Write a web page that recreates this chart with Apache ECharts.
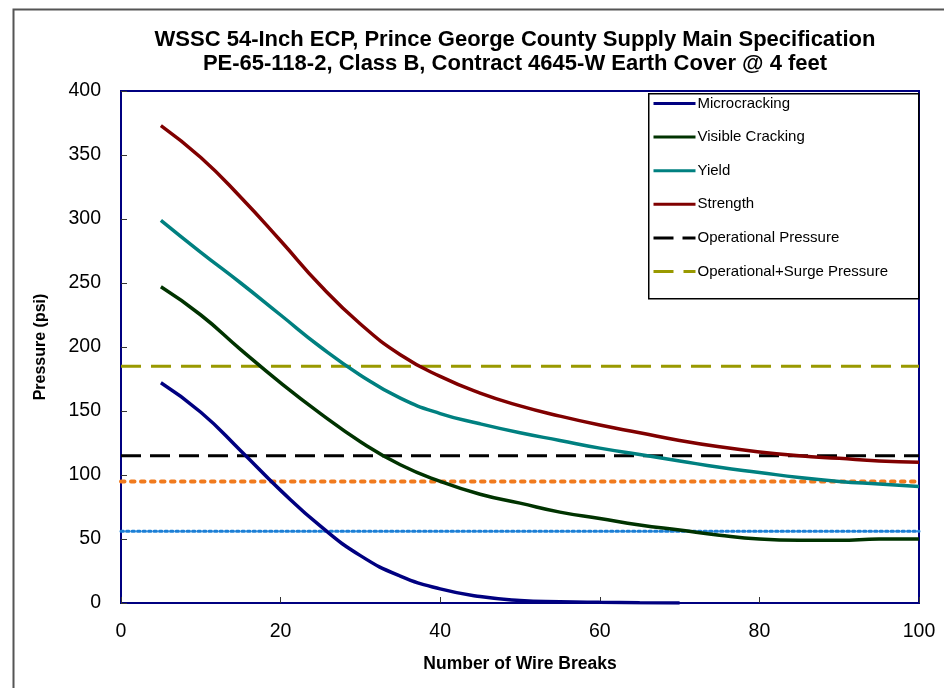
<!DOCTYPE html>
<html>
<head>
<meta charset="utf-8">
<script src="https://cdn.jsdelivr.net/npm/echarts@6/dist/echarts.min.js"></script>
<style>html,body{margin:0;padding:0;background:#fff}#c{width:944px;height:688px}</style>
</head>
<body>
<div id="c"></div>
<script>
var wireBreaks = [5, 10, 15, 20, 25, 30, 35, 40, 45, 50, 55, 60, 65, 70, 75, 80, 85, 90, 95, 100];
var microcracking = [172, 149, 119, 88, 60, 37, 21, 11, 5, 2, 1, 0.5, 0.2, 0];
var visibleCracking = [247, 225, 198, 172, 148, 126, 108, 95, 85, 78, 71, 66, 61, 57, 53, 50, 49, 49, 50, 50];
var yieldP = [299, 274, 250, 225, 200, 178, 160, 148, 140, 133, 127, 121, 116, 111, 106, 102, 98, 95, 93, 91];
var strength = [373, 348, 317, 283, 248, 218, 194, 177, 164, 154, 146, 139, 133, 127, 122, 118, 115, 113, 111, 110];
var lineX = [0, 100];
var operational = 115;
var operationalSurge = 185;
var orangeRef = 95;
var blueRef = 56;
var xTicks = [0, 20, 40, 60, 80, 100];
var yTicks = [0, 50, 100, 150, 200, 250, 300, 350, 400];

function pairs(xs, ys) { return ys.map(function (v, i) { return [xs[i], v]; }); }
function flat(v) { return lineX.map(function (x) { return [x, v]; }); }

var FONT = 'Liberation Sans, Arial, sans-serif';
var chart = echarts.init(document.getElementById('c'), null, {renderer: 'canvas'});
chart.setOption({
  backgroundColor: '#fff',
  animation: false,
  title: {
    text: 'WSSC 54-Inch ECP, Prince George County Supply Main Specification\nPE-65-118-2, Class B, Contract 4645-W Earth Cover @ 4 feet',
    left: 510, top: 23, textAlign: 'center',
    textStyle: {fontFamily: FONT, fontSize: 22, fontWeight: 'bold', color: '#000', lineHeight: 24}
  },
  graphic: [{
    type: 'rect', left: 11, top: 7, z: 0, silent: true,
    shape: {width: 960, height: 700},
    style: {fill: 'none', stroke: '#555', lineWidth: 2}
  }, {
    type: 'rect', left: 648, top: 93, z: 9, silent: true,
    shape: {width: 270, height: 205},
    style: {fill: '#fff', stroke: '#000', lineWidth: 1.5}
  }],
  grid: {left: 121, right: 25, top: 91, bottom: 85, show: true, borderColor: '#000080', borderWidth: 2, backgroundColor: 'transparent'},
  legend: {
    orient: 'vertical', left: 650, top: 95, z: 10,
    itemWidth: 42, itemHeight: 16, itemGap: 18.6, padding: [1, 4, 4, 2],
    itemStyle: {opacity: 0},
    lineStyle: {width: 3},
    textStyle: {fontFamily: FONT, fontSize: 15, color: '#000', padding: [0, 0, 0, -3]},
    data: ['Microcracking', 'Visible Cracking', 'Yield', 'Strength', 'Operational Pressure', 'Operational+Surge Pressure']
  },
  xAxis: {
    type: 'value', min: 0, max: 100, interval: 20,
    name: 'Number of Wire Breaks', nameLocation: 'middle', nameGap: 52,
    nameTextStyle: {fontFamily: FONT, fontSize: 17.5, fontWeight: 'bold', color: '#000'},
    axisLine: {onZero: false, lineStyle: {color: '#000080', width: 2}},
    axisTick: {inside: true, length: 6, lineStyle: {color: '#333'}},
    splitLine: {show: false},
    axisLabel: {fontFamily: FONT, fontSize: 19.5, color: '#000', margin: 19,
      formatter: function (v) { return xTicks.indexOf(v) >= 0 ? String(v) : ''; }}
  },
  yAxis: {
    type: 'value', min: 0, max: 400, interval: 50,
    name: 'Pressure (psi)', nameLocation: 'middle', nameGap: 72, nameRotate: 90,
    nameTextStyle: {fontFamily: FONT, fontSize: 16, fontWeight: 'bold', color: '#000'},
    axisLine: {show: true, lineStyle: {color: '#000080', width: 2}},
    axisTick: {show: true, inside: true, length: 6, lineStyle: {color: '#333'}},
    splitLine: {show: false},
    axisLabel: {fontFamily: FONT, fontSize: 19.5, color: '#000', margin: 20,
      formatter: function (v) { return yTicks.indexOf(v) >= 0 ? String(v) : ''; }}
  },
  series: [
    {name: 'Operational+Surge Pressure', type: 'line', symbol: 'none', data: flat(operationalSurge), color: '#999900',
      lineStyle: {color: '#999900', width: 3, type: [20, 10]}, z: 2},
    {name: 'Operational Pressure', type: 'line', symbol: 'none', data: flat(operational), color: '#000',
      lineStyle: {color: '#000', width: 3, type: [20, 9]}, z: 2},
    {name: 'Orange', type: 'line', symbol: 'none', data: flat(orangeRef), color: '#F07A1E',
      lineStyle: {color: '#F07A1E', width: 4, type: [3.5, 6.5], cap: 'round'}, z: 2},
    {name: 'Blue', type: 'line', symbol: 'none', data: flat(blueRef), color: '#1B7FD6',
      lineStyle: {color: '#1B7FD6', width: 3, type: [2.5, 3], cap: 'round'}, z: 2},
    {name: 'Microcracking', type: 'line', symbol: 'none', smooth: 0.5, data: pairs(wireBreaks, microcracking), color: '#000080',
      lineStyle: {color: '#000080', width: 3.5}, z: 3},
    {name: 'Visible Cracking', type: 'line', symbol: 'none', smooth: 0.5, data: pairs(wireBreaks, visibleCracking), color: '#003300',
      lineStyle: {color: '#003300', width: 3.5}, z: 3},
    {name: 'Yield', type: 'line', symbol: 'none', smooth: 0.5, data: pairs(wireBreaks, yieldP), color: '#008080',
      lineStyle: {color: '#008080', width: 3.5}, z: 3},
    {name: 'Strength', type: 'line', symbol: 'none', smooth: 0.5, data: pairs(wireBreaks, strength), color: '#800000',
      lineStyle: {color: '#800000', width: 3.5}, z: 3}
  ]
});
</script>
</body>
</html>
